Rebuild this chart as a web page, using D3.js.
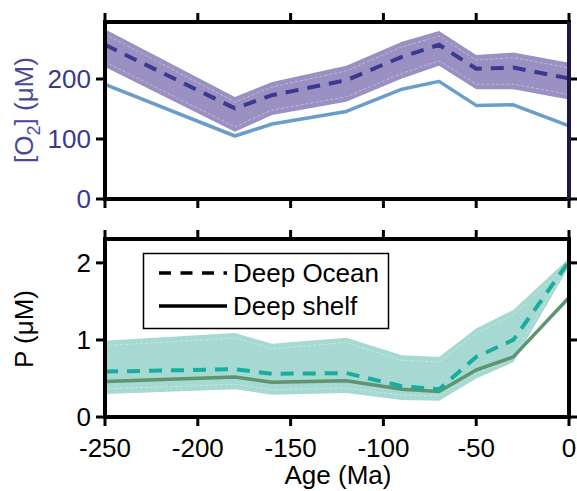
<!DOCTYPE html>
<html>
<head>
    <meta charset="utf-8">
    <script src="https://d3js.org/d3.v7.min.js"></script>
    <style>
        body { margin: 0; background: #fff; }
        text { font-family: "Liberation Sans", Arial, sans-serif; }
    </style>
</head>
<body>
    <svg width="577" height="491"></svg>

    <script>
        // age of each sample (Ma)
        var ages = [-250, -180, -160, -120, -90, -70, -50, -30, 0];

        // top panel: [O2] (uM)
        var o2Ocean = [257, 151, 173, 198, 237, 257, 217, 219, 201];
        var o2OceanHi = [283, 170, 195, 222, 262, 280, 240, 244, 227];
        var o2OceanLo = [220, 112, 140, 162, 201, 222, 183, 183, 166];
        var o2Shelf = [191, 105, 125, 146, 183, 196, 156, 157, 122];

        // bottom panel: P (uM)
        var pOcean = [0.59, 0.62, 0.56, 0.57, 0.40, 0.36, 0.78, 1.00, 2.02];
        var pOceanHi = [0.99, 1.09, 0.95, 1.03, 0.80, 0.78, 1.15, 1.39, 2.06];
        var pOceanLo = [0.30, 0.36, 0.29, 0.31, 0.22, 0.21, 0.50, 0.71, 1.95];
        var pShelf = [0.46, 0.52, 0.45, 0.47, 0.36, 0.33, 0.61, 0.78, 1.55];

        var xTicks = [-250, -200, -150, -100, -50, 0];
        var o2Ticks = [0, 100, 200];
        var pTicks = [0, 1, 2];
        var legendNames = ["Deep Ocean", "Deep shelf"];

        var svg = d3.select("svg");
        var left = 105, right = 569;

        var x = d3.scaleLinear().domain([-250, 0]).range([left, right]);
        var yTop = d3.scaleLinear().domain([0, 295]).range([199, 22]);
        var yBot = d3.scaleLinear().domain([0, 2.31]).range([417, 239]);

        function drawPanel(y, ticks, tickColor, rightColor) {
            var g = svg.append("g");
            var y0 = y.range()[0], y1 = y.range()[1];

            // x ticks top and bottom, pointing out
            xTicks.forEach(function(t) {
                g.append("line").attr("x1", x(t)).attr("x2", x(t))
                    .attr("y1", y0).attr("y2", y0 + 9)
                    .attr("stroke", "#000").attr("stroke-width", 3);
                g.append("line").attr("x1", x(t)).attr("x2", x(t))
                    .attr("y1", y1).attr("y2", y1 - 9)
                    .attr("stroke", "#000").attr("stroke-width", 3);
            });
            // y ticks left and right
            ticks.forEach(function(t) {
                g.append("line").attr("x1", left).attr("x2", left - 9)
                    .attr("y1", y(t)).attr("y2", y(t))
                    .attr("stroke", "#000").attr("stroke-width", 3);
                g.append("line").attr("x1", right).attr("x2", right + 9)
                    .attr("y1", y(t)).attr("y2", y(t))
                    .attr("stroke", "#000").attr("stroke-width", 3);
                g.append("text").attr("x", left - 14).attr("y", y(t))
                    .attr("dy", "0.36em").attr("text-anchor", "end")
                    .attr("font-size", 26).attr("fill", tickColor)
                    .text(t);
            });
            return g;
        }

        function drawFrame(y, rightColor) {
            var y0 = y.range()[0], y1 = y.range()[1];
            var g = svg.append("g");
            g.append("line").attr("x1", left - 2).attr("x2", right + 2)
                .attr("y1", y0).attr("y2", y0).attr("stroke", "#000").attr("stroke-width", 4);
            g.append("line").attr("x1", left - 2).attr("x2", right + 2)
                .attr("y1", y1).attr("y2", y1).attr("stroke", "#000").attr("stroke-width", 4);
            g.append("line").attr("x1", left).attr("x2", left)
                .attr("y1", y0).attr("y2", y1).attr("stroke", "#000").attr("stroke-width", 4);
            g.append("line").attr("x1", right).attr("x2", right)
                .attr("y1", y0).attr("y2", y1).attr("stroke", rightColor).attr("stroke-width", 4);
        }

        function drawSeries(y, mid, hi, lo, solid, c) {
            var g = svg.append("g");
            var area = d3.area()
                .x(function(d, i) { return x(ages[i]); })
                .y0(function(d, i) { return y(lo[i]); })
                .y1(function(d, i) { return y(hi[i]); });
            var line = d3.line().x(function(d, i) { return x(ages[i]); }).y(function(d) { return y(d); });

            g.append("path").datum(mid).attr("d", area).attr("fill", c.band);
            // faint inner edges of the band
            g.append("path").datum(hi).attr("d", line).attr("transform", "translate(0,5)")
                .attr("fill", "none").attr("stroke", "#fff").attr("stroke-opacity", 0.45)
                .attr("stroke-width", 0.8).attr("stroke-dasharray", "3,2");
            g.append("path").datum(lo).attr("d", line).attr("transform", "translate(0,-5)")
                .attr("fill", "none").attr("stroke", "#fff").attr("stroke-opacity", 0.45)
                .attr("stroke-width", 0.8).attr("stroke-dasharray", "3,2");

            g.append("path").datum(solid).attr("d", line)
                .attr("fill", "none").attr("stroke", c.solid).attr("stroke-width", 3.5)
                .attr("stroke-linejoin", "round");
            g.append("path").datum(mid).attr("d", line)
                .attr("fill", "none").attr("stroke", c.dash).attr("stroke-width", 4)
                .attr("stroke-dasharray", "13,9");
        }

        // top panel
        drawPanel(yTop, o2Ticks, "#3b3a8c");
        drawSeries(yTop, o2Ocean, o2OceanHi, o2OceanLo, o2Shelf,
            { band: "#9a90c2", solid: "#6a9dc8", dash: "#3a3990" });
        drawFrame(yTop, "#1c1a40");

        // bottom panel
        drawPanel(yBot, pTicks, "#000");
        drawSeries(yBot, pOcean, pOceanHi, pOceanLo, pShelf,
            { band: "#a5d9d1", solid: "#5e9470", dash: "#19ad9d" });
        drawFrame(yBot, "#000");

        // x tick labels
        xTicks.forEach(function(t) {
            svg.append("text").attr("x", x(t)).attr("y", 457)
                .attr("text-anchor", "middle").attr("font-size", 26).text(t);
        });
        svg.append("text").attr("x", 338).attr("y", 484)
            .attr("text-anchor", "middle").attr("font-size", 26).text("Age (Ma)");

        // y labels
        var lt = svg.append("text").attr("transform", "translate(33,110) rotate(-90)")
            .attr("text-anchor", "middle").attr("font-size", 26).attr("fill", "#4a4898");
        lt.append("tspan").text("[O");
        lt.append("tspan").attr("font-size", 18).attr("dy", 7).text("2");
        lt.append("tspan").attr("dy", -7).text("] (\u03BCM)");

        svg.append("text").attr("transform", "translate(33,329) rotate(-90)")
            .attr("text-anchor", "middle").attr("font-size", 26).text("P (\u03BCM)");

        // legend
        var lg = svg.append("g");
        lg.append("rect").attr("x", 143.5).attr("y", 253.5).attr("width", 245).attr("height", 75)
            .attr("fill", "#fff").attr("stroke", "#000").attr("stroke-width", 1.5);
        [273, 306].forEach(function(yy, i) {
            lg.append("line").attr("x1", 159).attr("x2", 227).attr("y1", yy).attr("y2", yy)
                .attr("stroke", "#000").attr("stroke-width", 3.5)
                .attr("stroke-dasharray", i === 0 ? "12,9.5" : null);
            lg.append("text").attr("x", 233).attr("y", yy).attr("dy", "0.36em")
                .attr("font-size", 26).text(legendNames[i]);
        });
    </script>
</body>
</html>
